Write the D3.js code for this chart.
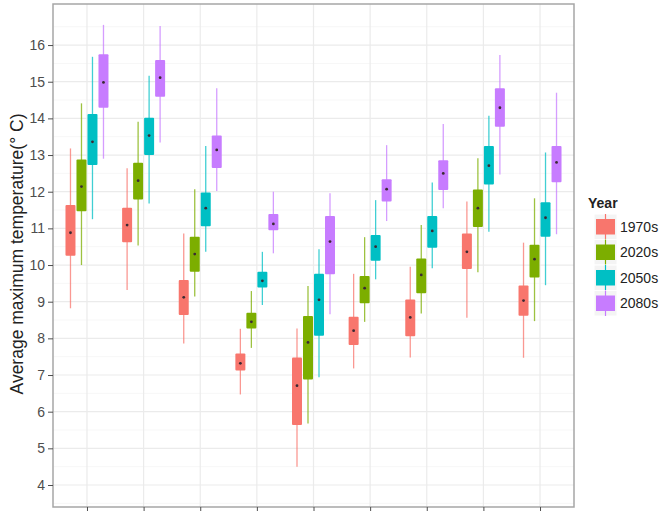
<!DOCTYPE html>
<html lang="en">
<head>
<meta charset="utf-8">
<title>Average maximum temperature boxplots</title>
<script src="https://d3js.org/d3.v7.min.js"></script>
<style>
  body { margin: 0; background: #fff; }
  svg { display: block; font-family: "Liberation Sans", Arial, sans-serif; }
</style>
</head>
<body>
<script>
// categories on the x axis (labels are cut off in the picture)
const groups = ["1", "2", "3", "4", "5", "6", "7", "8", "9"];
const years = ["1970s", "2020s", "2050s", "2080s"];
const colours = ["#F8766D", "#7CAE00", "#00BFC4", "#C77CFF"];
const yTicks = [4, 5, 6, 7, 8, 9, 10, 11, 12, 13, 14, 15, 16];

// per year: [whisker low, q1, median, q3, whisker high] for each group
const stats1970s = [
  [8.82, 10.25, 10.88, 11.64, 13.18], [9.32, 10.62, 11.09, 11.56, 12.64],
  [7.86, 8.64, 9.12, 9.59, 10.86], [6.47, 7.12, 7.32, 7.59, 8.26],
  [4.50, 5.64, 6.71, 7.48, 8.27], [7.18, 7.82, 8.21, 8.59, 9.76],
  [7.48, 8.06, 8.57, 9.06, 9.95], [8.56, 9.89, 10.36, 10.86, 11.73],
  [7.47, 8.62, 9.03, 9.44, 10.61]
];
const stats2020s = [
  [10.0, 11.47, 12.14, 12.88, 14.41], [10.53, 11.79, 12.30, 12.79, 13.91],
  [9.14, 9.82, 10.30, 10.77, 12.07], [7.74, 8.27, 8.45, 8.70, 9.29],
  [5.68, 6.88, 7.89, 8.61, 9.43], [8.45, 8.96, 9.37, 9.70, 10.76],
  [8.68, 9.23, 9.73, 10.18, 11.09], [9.80, 11.04, 11.55, 12.06, 12.91],
  [8.47, 9.66, 10.16, 10.55, 11.82]
];
const stats2050s = [
  [11.25, 12.73, 13.36, 14.12, 15.68], [11.68, 13.00, 13.53, 14.02, 15.16],
  [10.36, 11.06, 11.55, 11.98, 13.25], [8.91, 9.39, 9.57, 9.82, 10.36],
  [6.94, 8.07, 9.05, 9.76, 10.43], [9.61, 10.12, 10.50, 10.82, 11.77],
  [9.91, 10.47, 10.93, 11.34, 12.25], [10.91, 12.20, 12.71, 13.25, 14.07],
  [9.45, 10.77, 11.29, 11.71, 13.07]
];
const stats2080s = [
  [12.90, 14.29, 14.98, 15.75, 16.55], [13.34, 14.59, 15.11, 15.59, 16.52],
  [12.02, 12.65, 13.14, 13.53, 14.82], [10.32, 10.95, 11.12, 11.39, 12.00],
  [8.66, 9.75, 10.64, 11.34, 11.96], [11.20, 11.73, 12.07, 12.34, 13.27],
  [11.55, 12.05, 12.50, 12.86, 13.85], [12.47, 13.77, 14.29, 14.82, 15.73],
  [10.84, 12.26, 12.80, 13.25, 14.70]
];

const allStats = [stats1970s, stats2020s, stats2050s, stats2080s];
const boxes = [];
years.forEach((yr, j) => {
  groups.forEach((g, i) => {
    const s = allStats[j][i];
    boxes.push({ group: g, year: yr, lo: s[0], q1: s[1], med: s[2], q3: s[3], hi: s[4] });
  });
});

const width = 661, height = 511;
const panel = { left: 53, right: 574, top: 4, bottom: 507 };

const x = d3.scalePoint().domain(groups).range([panel.left, panel.right]).padding(0.6);
const dodge = d3.scaleBand().domain(years).range([-22, 22]);
const y = d3.scaleLinear().domain([3.4, 17.12]).range([panel.bottom, panel.top]);
const colour = d3.scaleOrdinal().domain(years).range(colours);

const svg = d3.select("body").append("svg")
  .attr("width", width).attr("height", height);

// grid
const minor = d3.range(3.5, 17.1, 1);
svg.append("g").selectAll("line").data(minor).join("line")
  .attr("x1", panel.left).attr("x2", panel.right)
  .attr("y1", d => y(d)).attr("y2", d => y(d))
  .attr("stroke", "#f7f7f7").attr("stroke-width", 1);
svg.append("g").selectAll("line").data(yTicks).join("line")
  .attr("x1", panel.left).attr("x2", panel.right)
  .attr("y1", d => y(d)).attr("y2", d => y(d))
  .attr("stroke", "#ebebeb").attr("stroke-width", 1.2);
svg.append("g").selectAll("line").data(groups).join("line")
  .attr("x1", d => x(d)).attr("x2", d => x(d))
  .attr("y1", panel.top).attr("y2", panel.bottom)
  .attr("stroke", "#ebebeb").attr("stroke-width", 1.2);

// boxes
const bw = dodge.bandwidth();
const bg = svg.append("g").selectAll("g").data(boxes).join("g")
  .attr("transform", d => `translate(${x(d.group) + dodge(d.year) + bw / 2},0)`);
bg.append("line")
  .attr("y1", d => y(d.lo)).attr("y2", d => y(d.hi))
  .attr("stroke", d => colour(d.year)).attr("stroke-opacity", 0.75)
  .attr("stroke-width", 1.3);
bg.append("rect")
  .attr("x", -bw / 2 + 0.5).attr("width", bw - 1)
  .attr("y", d => y(d.q3)).attr("height", d => y(d.q1) - y(d.q3))
  .attr("rx", 1)
  .attr("fill", d => colour(d.year));
bg.append("circle")
  .attr("cy", d => y(d.med)).attr("r", 1.4)
  .attr("fill", "#3b2a33");

// panel border
svg.append("rect")
  .attr("x", panel.left).attr("y", panel.top)
  .attr("width", panel.right - panel.left).attr("height", panel.bottom - panel.top)
  .attr("fill", "none").attr("stroke", "#a6a6a6").attr("stroke-width", 1.5);

// axes
const leftAxis = d3.axisLeft(y).tickValues(yTicks).tickSize(5).tickPadding(3);
const gy = svg.append("g").attr("transform", `translate(${panel.left},0)`).call(leftAxis);
gy.select(".domain").remove();
gy.selectAll(".tick line").attr("stroke", "#4d4d4d");
gy.selectAll(".tick text").attr("fill", "#4d4d4d").attr("font-size", 14);

const bottomAxis = d3.axisBottom(x).tickSize(5).tickFormat("");
const gx = svg.append("g").attr("transform", `translate(0,${panel.bottom})`).call(bottomAxis);
gx.select(".domain").remove();
gx.selectAll(".tick line").attr("stroke", "#4d4d4d");

// y label
svg.append("text")
  .attr("transform", `translate(23,${(113 + 395) / 2}) rotate(-90)`)
  .attr("text-anchor", "middle")
  .attr("font-size", 17.5)
  .attr("fill", "#222")
  .text("Average maximum temperature(° C)");

// legend
const legend = svg.append("g").attr("transform", "translate(588,0)");
legend.append("text")
  .attr("x", 0).attr("y", 208)
  .attr("font-size", 14).attr("font-weight", "bold").attr("fill", "#222")
  .text("Year");
const keyH = 25.5;
const key = legend.selectAll("g.key").data(years).join("g")
  .attr("class", "key")
  .attr("transform", (d, i) => `translate(6,${214 + i * keyH})`);
key.append("rect")
  .attr("width", 23).attr("height", keyH)
  .attr("fill", "#f4f4f4").attr("stroke", "#fff");
key.append("line")
  .attr("x1", 11.5).attr("x2", 11.5).attr("y1", 0).attr("y2", keyH)
  .attr("stroke", d => colour(d)).attr("stroke-width", 1.2);
key.append("rect")
  .attr("x", 2).attr("y", 5).attr("width", 19).attr("height", keyH - 10)
  .attr("fill", d => colour(d));
key.append("text")
  .attr("x", 26).attr("y", keyH / 2 + 5)
  .attr("font-size", 14).attr("fill", "#222")
  .text(d => d);
</script>
</body>
</html>
